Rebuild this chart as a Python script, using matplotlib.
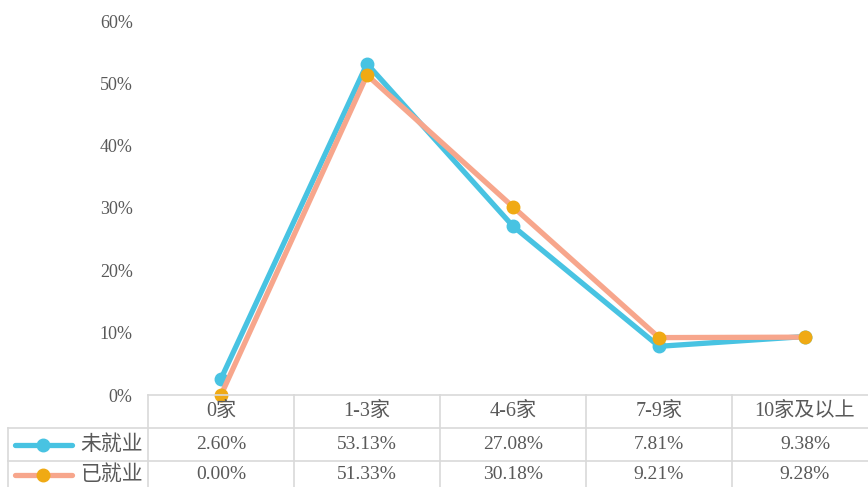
import matplotlib
matplotlib.use("Agg")
import matplotlib.pyplot as plt
from matplotlib.lines import Line2D

plt.rcParams['font.family'] = ['Liberation Serif', 'Noto Sans CJK SC', 'DejaVu Sans']

categories = ["0家", "1-3家", "4-6家", "7-9家", "10家及以上"]
series_names = ["未就业", "已就业"]
unemployed = [2.60, 53.13, 27.08, 7.81, 9.38]
employed = [0.00, 51.33, 30.18, 9.21, 9.28]
yticks = [0, 10, 20, 30, 40, 50, 60]

W, H = 868, 487
fig = plt.figure(figsize=(W / 100, H / 100), dpi=100)

def fx(px):
    return px / W

def fy(py):
    return 1 - py / H

left_px, right_px, top_px, bottom_px = 148, 878, 21, 395
ax = fig.add_axes([fx(left_px), fy(bottom_px), fx(right_px - left_px), (bottom_px - top_px) / H])
ax.set_xlim(-0.5, len(categories) - 0.5)
ax.set_ylim(0, 60)
for s in ax.spines.values():
    s.set_visible(False)
ax.set_xticks([])
ax.set_yticks(yticks)
ax.set_yticklabels([f"{t}%" for t in yticks], color="#595959", fontsize=13)
ax.tick_params(axis='y', length=0, pad=11)

blue = "#48C3E2"
salmon = "#F7A68C"
gold = "#F0AA14"
x = list(range(len(categories)))
ax.plot(x, unemployed, color=blue, lw=3.8, marker='o', ms=9, mfc=blue, mec=blue, zorder=3, clip_on=False)
ax.plot(x, employed, color=salmon, lw=3.8, marker='o', ms=9, mfc=gold, mec=gold, zorder=4, clip_on=False)

# Data table
grid = "#D9D9D9"
col_w = 146
col_xs = [left_px + i * col_w for i in range(len(categories) + 1)]

def hline(y, x0, x1):
    fig.add_artist(Line2D([fx(x0), fx(x1)], [fy(y), fy(y)], color=grid, lw=1.2))

def vline(xp, y0, y1):
    fig.add_artist(Line2D([fx(xp), fx(xp)], [fy(y0), fy(y1)], color=grid, lw=1.2))

hline(395, left_px, W + 20)
hline(428, 8, W + 20)
hline(461, 8, W + 20)
for cx in col_xs[:-1]:
    vline(cx, 395, H + 5)
vline(8, 428, H + 5)

tc = "#595959"
fs = 14
for i, c in enumerate(categories):
    xc = left_px + (i + 0.5) * col_w
    fig.text(fx(xc), fy((395 + 428) / 2), c, ha='center', va='center', fontsize=14.5, color=tc)
    fig.text(fx(xc), fy((428 + 461) / 2), f"{unemployed[i]:.2f}%", ha='center', va='center', fontsize=fs, color=tc)
    fig.text(fx(xc), fy((461 + 494) / 2 - 3), f"{employed[i]:.2f}%", ha='center', va='center', fontsize=fs, color=tc)

for name, ly, lc, mc in [(series_names[0], (428 + 461) / 2, blue, blue),
                         (series_names[1], (461 + 494) / 2 - 3, salmon, gold)]:
    fig.add_artist(Line2D([fx(15), fx(72)], [fy(ly), fy(ly)], color=lc, lw=3.8, solid_capstyle='round'))
    fig.add_artist(Line2D([fx(43)], [fy(ly)], color=mc, marker='o', ms=9, lw=0))
    fig.text(fx(80), fy(ly), name, ha='left', va='center', fontsize=15, color=tc)

fig.savefig("out.png", dpi=100)
